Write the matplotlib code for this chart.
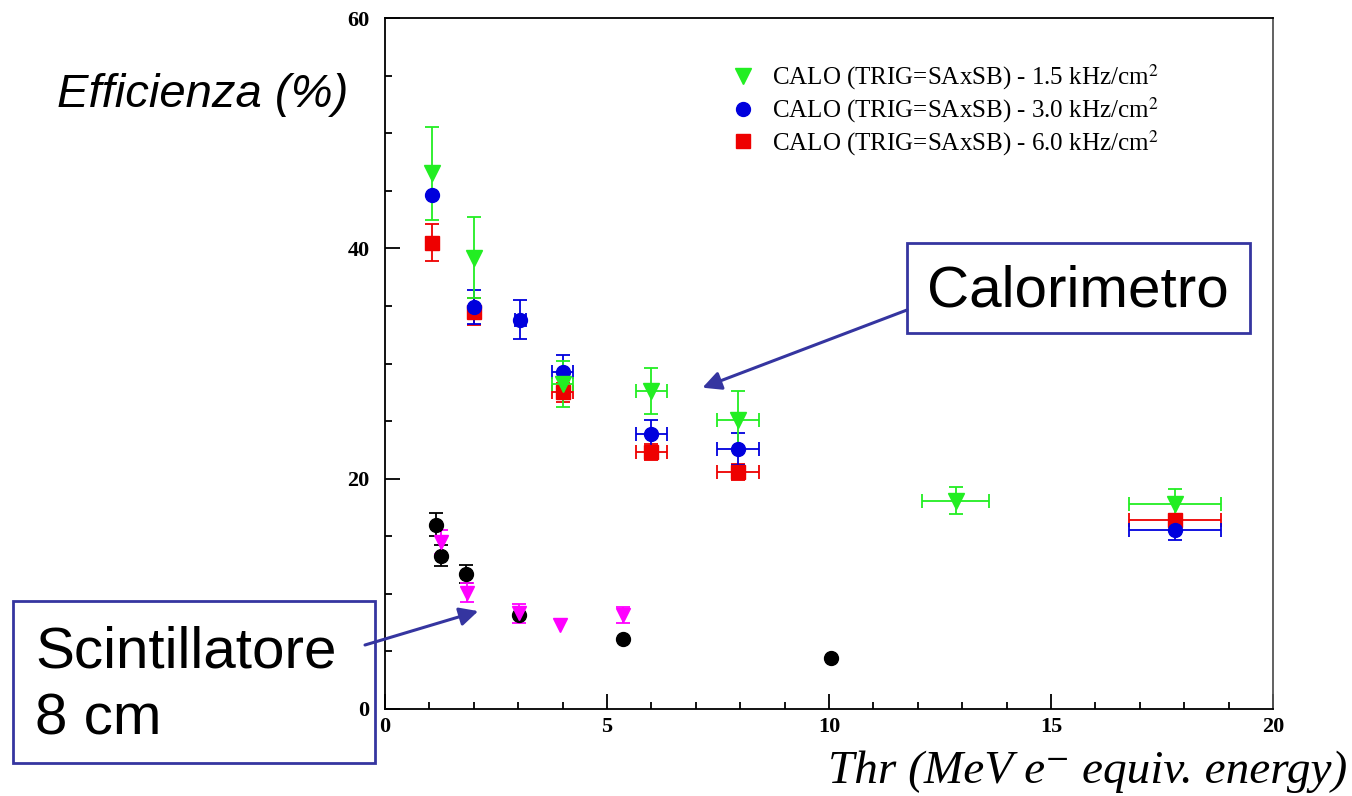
import numpy as np
import matplotlib.pyplot as plt
from matplotlib.patches import Rectangle
from matplotlib.ticker import MultipleLocator

nan = np.nan

# CALO (TRIG=SAxSB) - 1.5 kHz/cm2
calo15_x = [1.05, 2.0, 4.0, 6.0, 7.95, 12.85, 17.8]
calo15_y = [46.5, 39.2, 28.2, 27.6, 25.1, 18.1, 17.8]
calo15_yerr = [4.0, 3.5, 2.0, 2.0, 2.5, 1.2, 1.3]
calo15_xerr = [nan, nan, 0.24, 0.35, 0.48, 0.76, 1.04]

# CALO (TRIG=SAxSB) - 3.0 kHz/cm2
calo30_x = [1.05, 2.0, 3.05, 4.0, 6.0, 7.95, 17.8]
calo30_y = [44.6, 34.9, 33.8, 29.3, 23.9, 22.6, 15.5]
calo30_yerr = [nan, 1.5, 1.7, 1.4, 1.2, 1.4, 0.8]
calo30_xerr = [nan, nan, 0.12, 0.24, 0.35, 0.48, 1.04]

# CALO (TRIG=SAxSB) - 6.0 kHz/cm2
calo60_x = [1.05, 2.0, 4.0, 6.0, 7.95, 17.8]
calo60_y = [40.5, 34.5, 27.5, 22.3, 20.6, 16.4]
calo60_yerr = [1.6, 1.2, 0.8, 0.7, 0.7, nan]
calo60_xerr = [nan, nan, 0.24, 0.35, 0.48, 1.04]

# Scintillatore 8 cm
scint_a_x = [1.14, 1.26, 1.82, 3.02, 5.35, 10.05]
scint_a_y = [16.0, 13.3, 11.7, 8.2, 6.1, 4.45]
scint_a_yerr = [1.0, 0.9, 0.8, nan, nan, nan]

scint_b_x = [1.26, 1.84, 3.02, 3.95, 5.35]
scint_b_y = [14.5, 10.1, 8.3, 7.3, 8.2]
scint_b_yerr = [1.0, 0.8, 0.8, nan, 0.7]

legend_labels = [
    "CALO (TRIG=SAxSB) - 1.5 kHz/cm$^2$",
    "CALO (TRIG=SAxSB) - 3.0 kHz/cm$^2$",
    "CALO (TRIG=SAxSB) - 6.0 kHz/cm$^2$",
]

W, H = 1352, 796
fig = plt.figure(figsize=(W / 100, H / 100), dpi=100)
ax = fig.add_axes([385 / W, 1 - 709 / H, (1273 - 385) / W, (709 - 18) / H])

serif = ['Liberation Serif', 'DejaVu Serif']
plt.rcParams['mathtext.fontset'] = 'stix'

green, blue, red = '#22ee22', '#0000dd', '#ee0000'
eb = dict(linestyle='none', capsize=5, elinewidth=1.3, capthick=1.3)

ax.errorbar(scint_a_x, scint_a_y, yerr=scint_a_yerr, fmt='o', color='black',
            ms=10, **eb)
ax.errorbar(scint_b_x, scint_b_y, yerr=scint_b_yerr, fmt='v', color='#ff00ff',
            ms=10, **eb)
h60 = ax.errorbar(calo60_x, calo60_y, yerr=calo60_yerr, xerr=calo60_xerr,
                  fmt='s', color=red, ms=10, **eb)
h30 = ax.errorbar(calo30_x, calo30_y, yerr=calo30_yerr, xerr=calo30_xerr,
                  fmt='o', color=blue, ms=10, **eb)
h15 = ax.errorbar(calo15_x, calo15_y, yerr=calo15_yerr, xerr=calo15_xerr,
                  fmt='v', color=green, ms=12, **eb)

ax.set_xlim(0, 20)
ax.set_ylim(0, 60)
ax.xaxis.set_major_locator(MultipleLocator(5))
ax.xaxis.set_minor_locator(MultipleLocator(1))
ax.yaxis.set_major_locator(MultipleLocator(20))
ax.yaxis.set_minor_locator(MultipleLocator(5))
ax.tick_params(which='both', direction='in', top=False, right=False, width=1.3)
ax.tick_params(which='major', length=11)
ax.tick_params(which='minor', length=5)
ax.tick_params(axis='x', pad=6)
ax.tick_params(axis='y', pad=11)
for lab in ax.get_xticklabels() + ax.get_yticklabels():
    lab.set_family(serif)
    lab.set_fontsize(16)
    lab.set_weight('bold')
for s in ax.spines.values():
    s.set_linewidth(1.3)
ax.spines['right'].set_color('#555555')

leg = ax.legend([h15[0], h30[0], h60[0]], legend_labels, loc='upper left',
                bbox_to_anchor=(705 / W, 1 - 40 / H), bbox_transform=fig.transFigure,
                frameon=False, handlelength=1.2, handletextpad=0.6,
                labelspacing=0.12, prop={'family': serif, 'size': 18})

fig.text(57 / W, 1 - 95 / H, "Efficienza (%)", fontsize=34, style='italic',
         family='Liberation Sans', ha='left', va='center')
fig.text(1347 / W, 1 - 772 / H, "Thr (MeV e\u207b equiv. energy)", fontsize=34,
         style='italic', family=serif, ha='right', va='center')

box_col = '#3535a0'
fig.patches.append(Rectangle((907 / W, 1 - 333 / H), (1250 - 907) / W, 90 / H,
                             transform=fig.transFigure, fill=False,
                             edgecolor=box_col, lw=2))
fig.text(1078 / W, 1 - 292 / H, "Calorimetro", fontsize=42,
         family='Liberation Sans', ha='center', va='center')
fig.patches.append(Rectangle((13 / W, 1 - 763 / H), (375 - 13) / W, 162 / H,
                             transform=fig.transFigure, fill=False,
                             edgecolor=box_col, lw=2))
fig.text(35 / W, 1 - 686 / H, "Scintillatore\n8 cm", fontsize=42,
         family='Liberation Sans', ha='left', va='center', linespacing=1.3)

arrow = dict(arrowstyle='-|>', color=box_col, lw=2.2, mutation_scale=28,
             shrinkA=0, shrinkB=0)
ax.annotate("", xy=(7.15, 27.9), xycoords='data',
            xytext=(907 / W, 1 - 310 / H), textcoords='figure fraction',
            arrowprops=arrow, annotation_clip=False)
ax.annotate("", xy=(2.1, 8.5), xycoords='data',
            xytext=(365 / W, 1 - 645 / H), textcoords='figure fraction',
            arrowprops=arrow, annotation_clip=False)

fig.savefig('out.png', dpi=100)
